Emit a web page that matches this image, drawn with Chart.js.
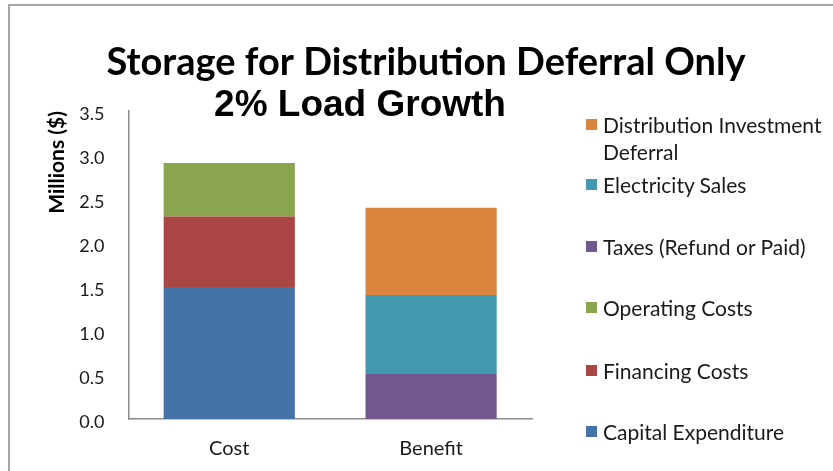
<!DOCTYPE html>
<html>
<head>
<meta charset="utf-8">
<script src="https://cdn.jsdelivr.net/npm/chart.js@4/dist/chart.umd.min.js"></script>
<style>
  html, body { margin: 0; padding: 0; background: #fff; overflow: hidden; }
  #wrap { position: relative; width: 833px; height: 471px; overflow: hidden; }
  #frame { position: absolute; left: 8px; top: 4px; width: 900px; height: 500px;
           border-left: 2px solid #a6a6a6; border-top: 2px solid #a6a6a6; }
  #chart { position: absolute; left: 0; top: 0; }
  #legend { position: absolute; left: 586px; top: 0; font-family: Lato, sans-serif;
            font-size: 21px; color: #1a1a1a; }
  #legend .item { position: absolute; left: 0; white-space: nowrap; line-height: 27px; }
  #legend .box { position: absolute; left: 0; top: 8px; width: 11px; height: 11px; }
  #legend .txt { position: absolute; left: 17px; top: 0; }
</style>
</head>
<body>
<div id="wrap">
  <div id="frame"></div>
  <canvas id="chart" width="833" height="471"></canvas>
  <div id="legend"></div>
</div>
<script>
var categories = ["Cost", "Benefit"];

var capitalExpenditure = [1.50, null];
var financingCosts     = [0.80, null];
var operatingCosts     = [0.61, null];
var taxes              = [null, 0.51];
var electricitySales   = [null, 0.90];
var distributionDeferral = [null, 0.99];

var yTicks = ["0.0", "0.5", "1.0", "1.5", "2.0", "2.5", "3.0", "3.5"];

var series = [
  { label: "Capital Expenditure", data: capitalExpenditure, color: "#4572a7" },
  { label: "Financing Costs", data: financingCosts, color: "#aa4643" },
  { label: "Operating Costs", data: operatingCosts, color: "#89a54e" },
  { label: "Taxes (Refund or Paid)", data: taxes, color: "#71588f" },
  { label: "Electricity Sales", data: electricitySales, color: "#4198af" },
  { label: "Distribution Investment Deferral", data: distributionDeferral, color: "#db843d" }
];

// two title lines in different faces, drawn above the plot
var titlePlugin = {
  id: 'twoLineTitle',
  afterDraw: function(chart) {
    var ctx = chart.ctx;
    ctx.save();
    ctx.fillStyle = '#000';
    ctx.textAlign = 'center';
    ctx.textBaseline = 'alphabetic';
    ctx.font = 'bold 38px Lato';
    ctx.fillText('Storage for Distribution Deferral Only', 426, 75);
    ctx.font = 'bold 37px "Liberation Sans"';
    ctx.fillText('2% Load Growth', 360, 116);
    ctx.restore();
  }
};

var datasets = series.map(function(s) {
  return {
    label: s.label,
    data: s.data,
    backgroundColor: s.color,
    borderWidth: 0,
    barPercentage: 0.65,
    categoryPercentage: 1.0,
    skipNull: true
  };
});

var myChart = new Chart(document.getElementById('chart').getContext('2d'), {
  type: 'bar',
  data: { labels: categories, datasets: datasets },
  options: {
    responsive: false,
    animation: false,
    layout: { padding: { top: 111, right: 301, left: 13, bottom: -8 } },
    plugins: {
      legend: { display: false },
      tooltip: { enabled: false }
    },
    scales: {
      x: {
        stacked: true,
        grid: { display: false, drawTicks: false },
        border: { color: '#8c8c8c', width: 1.5 },
        ticks: { color: '#1a1a1a', font: { family: 'Lato', size: 20 }, padding: 18 }
      },
      y: {
        stacked: true,
        min: 0,
        max: 3.5,
        grid: { display: false, drawTicks: false },
        border: { color: '#8c8c8c', width: 1.5 },
        ticks: {
          stepSize: 0.5,
          color: '#1a1a1a',
          font: { family: 'Lato', size: 18 },
          padding: 24,
          labelOffset: 3,
          callback: function(v, i) { return yTicks[i]; }
        },
        title: {
          display: true,
          text: 'Millions ($)',
          align: 'end',
          color: '#000',
          font: { family: 'Lato', size: 21, weight: 'bold' },
          padding: { top: 32, bottom: -15 }
        }
      }
    }
  },
  plugins: [titlePlugin]
});

// legend on the right, top entry is the last series
var legendRows = [
  { idx: 5, lines: ["Distribution Investment", "Deferral"], top: 111 },
  { idx: 4, lines: ["Electricity Sales"], top: 171 },
  { idx: 3, lines: ["Taxes (Refund or Paid)"], top: 233 },
  { idx: 2, lines: ["Operating Costs"], top: 294 },
  { idx: 1, lines: ["Financing Costs"], top: 357 },
  { idx: 0, lines: ["Capital Expenditure"], top: 418 }
];
var legendEl = document.getElementById('legend');
legendRows.forEach(function(r) {
  var item = document.createElement('div');
  item.className = 'item';
  item.style.top = r.top + 'px';
  var box = document.createElement('span');
  box.className = 'box';
  box.style.background = series[r.idx].color;
  var txt = document.createElement('span');
  txt.className = 'txt';
  txt.innerHTML = r.lines.join('<br>');
  item.appendChild(box);
  item.appendChild(txt);
  legendEl.appendChild(item);
});
</script>
</body>
</html>
